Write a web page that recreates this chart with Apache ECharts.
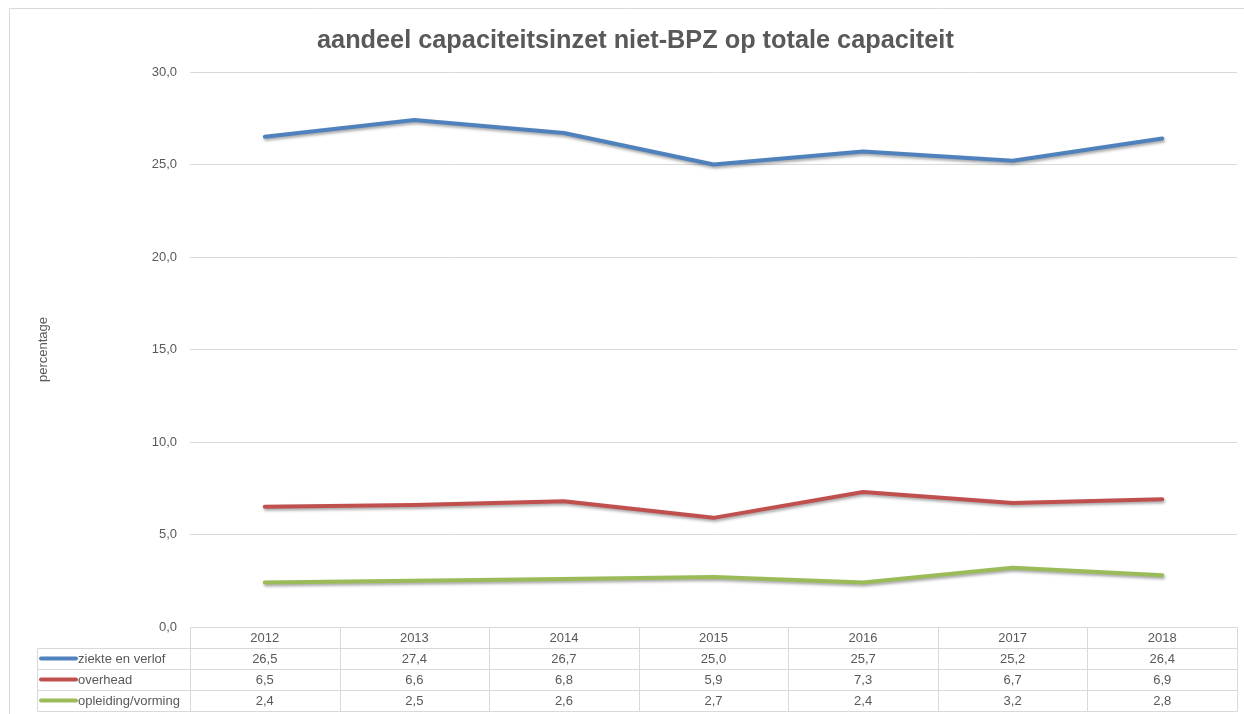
<!DOCTYPE html>
<html>
<head>
<meta charset="utf-8">
<script src="https://cdn.jsdelivr.net/npm/echarts@6/dist/echarts.min.js"></script>
<style>html,body{margin:0;padding:0;background:#fff}#c{width:1244px;height:714px}</style>
</head>
<body>
<div id="c"></div>
<script>
const years = ['2012','2013','2014','2015','2016','2017','2018'];
const seriesNames = ['ziekte en verlof','overhead','opleiding/vorming'];
const ziekteEnVerlof = [26.5, 27.4, 26.7, 25.0, 25.7, 25.2, 26.4];
const overhead = [6.5, 6.6, 6.8, 5.9, 7.3, 6.7, 6.9];
const opleidingVorming = [2.4, 2.5, 2.6, 2.7, 2.4, 3.2, 2.8];
const yTicks = [0, 5, 10, 15, 20, 25, 30];
const colors = ['#4F81BD', '#C0504D', '#9BBB59'];
const allValues = [ziekteEnVerlof, overhead, opleidingVorming];

const fmt = v => v.toFixed(1).replace('.', ',');
const FONT = 'Liberation Sans';
const TXT = '#595959';
const LINE = '#d9d9d9';

// table cells: header row (row 0) + value rows
const tableRows = ['hdr'].concat(seriesNames);
const tableData = [];
years.forEach((y, xi) => {
  tableData.push([xi, 0, y]);
  allValues.forEach((arr, si) => tableData.push([xi, si + 1, fmt(arr[xi])]));
});
const legendData = seriesNames.map((n, i) => [0, i, n]);

function cellRect(p, s) {
  const x1 = Math.round(p[0] - s[0] / 2), x2 = Math.round(p[0] + s[0] / 2);
  const y1 = Math.round(p[1] - s[1] / 2), y2 = Math.round(p[1] + s[1] / 2);
  return {x: x1 + 0.5, y: y1 + 0.5, width: x2 - x1, height: y2 - y1};
}

const chart = echarts.init(document.getElementById('c'), null, {renderer: 'canvas'});
chart.setOption({
  animation: false,
  backgroundColor: '#fff',
  title: {
    text: 'aandeel capaciteitsinzet niet-BPZ op totale capaciteit',
    left: 312, top: 24,
    textStyle: {fontFamily: FONT, fontSize: 25.3, fontWeight: 'bold', color: TXT}
  },
  graphic: [{
    type: 'rect', silent: true, z: -1,
    shape: {x: 9.5, y: 8.5, width: 1400, height: 900},
    style: {fill: 'none', stroke: LINE, lineWidth: 1}
  }],
  grid: [
    {left: 190, right: 7, top: 72, height: 555},
    {left: 190, right: 7, top: 627, height: 84},
    {left: 37, width: 153, top: 648, height: 63}
  ],
  xAxis: [
    {type: 'category', gridIndex: 0, data: years, boundaryGap: true,
     axisLine: {show: false}, axisTick: {show: false}, axisLabel: {show: false}},
    {type: 'category', gridIndex: 1, data: years, boundaryGap: true,
     axisLine: {show: false}, axisTick: {show: false}, axisLabel: {show: false}},
    {type: 'category', gridIndex: 2, data: [''], boundaryGap: true,
     axisLine: {show: false}, axisTick: {show: false}, axisLabel: {show: false}}
  ],
  yAxis: [
    {type: 'value', gridIndex: 0, min: 0, max: 30, interval: 5,
     name: 'percentage', nameLocation: 'middle', nameGap: 140, nameRotate: 90,
     nameTextStyle: {fontFamily: FONT, fontSize: 13, color: TXT},
     axisLine: {show: false}, axisTick: {show: false},
     axisLabel: {fontFamily: FONT, fontSize: 13, color: TXT, margin: 13, formatter: v => fmt(v)},
     splitLine: {lineStyle: {color: LINE, width: 1}}},
    {type: 'category', gridIndex: 1, data: tableRows, inverse: true,
     axisLine: {show: false}, axisTick: {show: false}, axisLabel: {show: false}},
    {type: 'category', gridIndex: 2, data: seriesNames, inverse: true,
     axisLine: {show: false}, axisTick: {show: false}, axisLabel: {show: false}}
  ],
  series: allValues.map((arr, i) => ({
    name: seriesNames[i], type: 'line', xAxisIndex: 0, yAxisIndex: 0,
    data: arr, symbol: 'none', z: 3,
    lineStyle: {color: colors[i], width: 4, cap: 'round', join: 'round',
      shadowColor: 'rgba(0,0,0,0.35)', shadowBlur: 3, shadowOffsetX: 1, shadowOffsetY: 2}
  })).concat([
    {
      type: 'custom', xAxisIndex: 1, yAxisIndex: 1, data: tableData, silent: true,
      encode: {x: 0, y: 1},
      renderItem: (params, api) => {
        const d = tableData[params.dataIndex];
        const p = api.coord([d[0], d[1]]);
        const s = api.size([1, 1]);
        return {type: 'group', children: [
          {type: 'rect', shape: cellRect(p, s), style: {fill: 'none', stroke: LINE, lineWidth: 1}},
          {type: 'text', x: p[0], y: p[1] + 1,
           style: {text: d[2], align: 'center', verticalAlign: 'middle', fill: TXT, font: '13px ' + FONT}}
        ]};
      }
    },
    {
      type: 'custom', xAxisIndex: 2, yAxisIndex: 2, data: legendData, silent: true,
      encode: {x: 0, y: 1},
      renderItem: (params, api) => {
        const d = legendData[params.dataIndex];
        const p = api.coord([d[0], d[1]]);
        const s = api.size([1, 1]);
        const x0 = p[0] - s[0] / 2;
        return {type: 'group', children: [
          {type: 'rect', shape: cellRect(p, s), style: {fill: 'none', stroke: LINE, lineWidth: 1}},
          {type: 'line', shape: {x1: x0 + 4, y1: p[1], x2: x0 + 39, y2: p[1]},
           style: {stroke: colors[params.dataIndex], lineWidth: 4, lineCap: 'round'}},
          {type: 'text', x: x0 + 41, y: p[1] + 1,
           style: {text: d[2], align: 'left', verticalAlign: 'middle', fill: TXT, font: '13px ' + FONT}}
        ]};
      }
    }
  ])
});
</script>
</body>
</html>
